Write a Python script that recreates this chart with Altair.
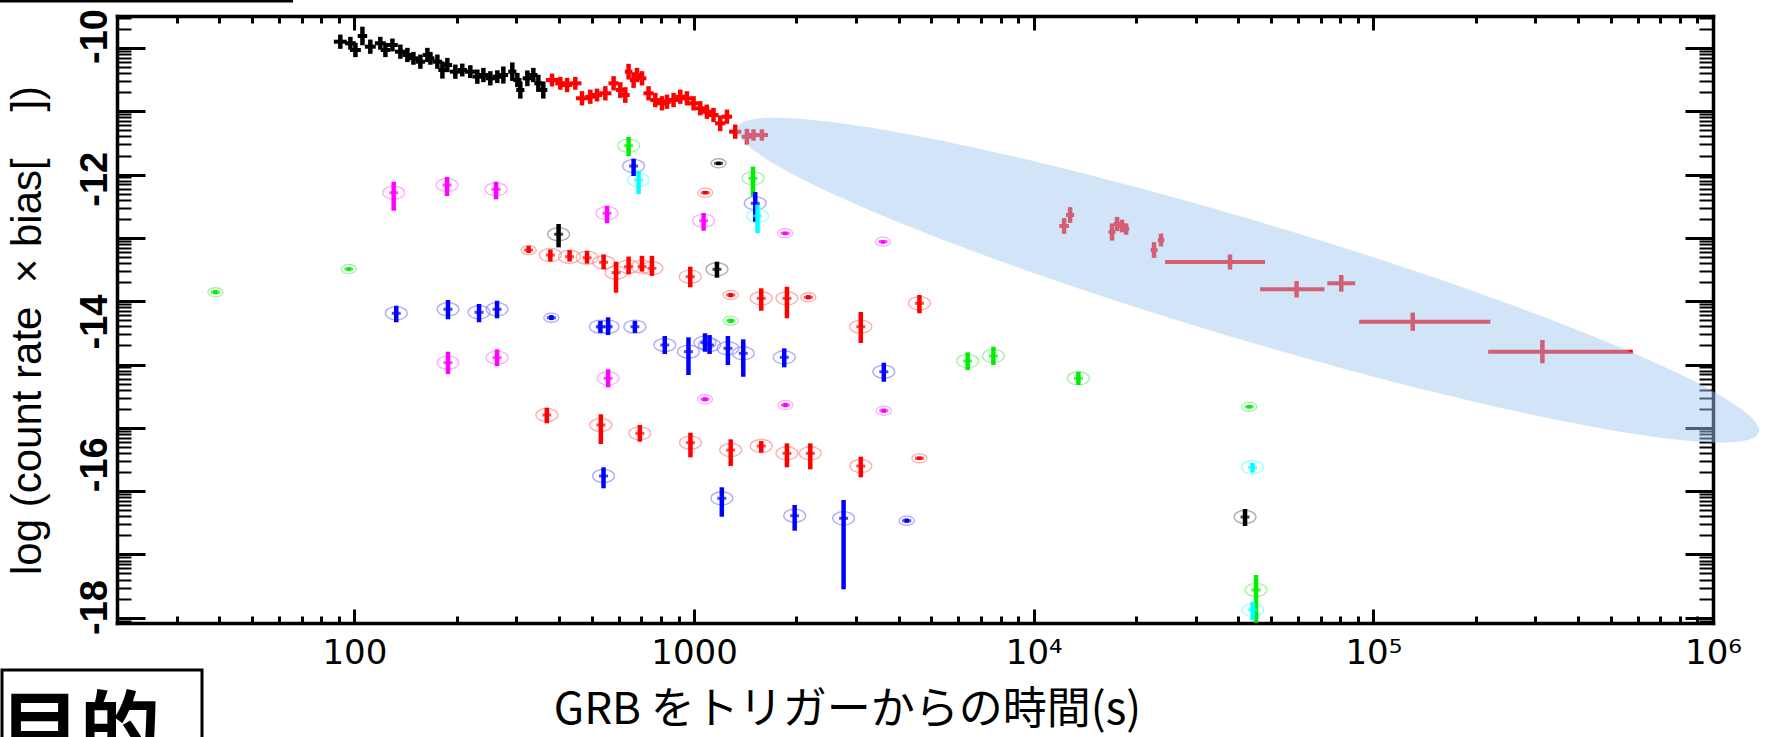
import math
import altair as alt
import pandas as pd

# ---------------- plot geometry ----------------
W, H = 1596, 607
Y_MIN, Y_MAX = -18.224, -9.72
T_MIN, T_MAX = 20, 1000000

# ---------------- X-ray light curve ----------------
# early part (black): time [s], log rate, half error in y, half bin width in dex
xrt_early_t = [90.9, 97.3, 100.7, 105.6, 111.4, 119.2, 123.4, 129.4, 136.6, 143.2,
               149.2, 156.4, 164.0, 167.4, 175.5, 181.6, 187.8, 198.2, 207.8, 219.4,
               230.1, 239.7, 251.3, 263.5, 274.5, 291.7, 301.8, 308.0, 323.0, 336.4,
               348.0, 359.9]
xrt_early_y = [-10.080, -10.102, -10.196, -10.000, -10.150, -10.102, -10.196, -10.126, -10.220, -10.266,
               -10.313, -10.360, -10.266, -10.313, -10.360, -10.477, -10.407, -10.500, -10.477, -10.500,
               -10.570, -10.547, -10.593, -10.570, -10.547, -10.500, -10.617, -10.757, -10.593, -10.547,
               -10.663, -10.757]
xrt_early_dy = [0.10, 0.09, 0.10, 0.13, 0.10, 0.09, 0.10, 0.09, 0.10, 0.10,
                0.09, 0.10, 0.10, 0.09, 0.10, 0.12, 0.10, 0.10, 0.09, 0.09,
                0.10, 0.10, 0.10, 0.09, 0.12, 0.13, 0.10, 0.12, 0.11, 0.10,
                0.12, 0.12]
xrt_early_dex = [0.019, 0.016, 0.016, 0.014, 0.016, 0.016, 0.014, 0.016, 0.016, 0.014,
                 0.014, 0.014, 0.014, 0.012, 0.014, 0.012, 0.014, 0.016, 0.014, 0.016,
                 0.014, 0.014, 0.014, 0.014, 0.014, 0.012, 0.012, 0.012, 0.014, 0.012,
                 0.012, 0.012]

# middle part (red)
xrt_mid_t = [381.8, 403.9, 422.7, 447.1, 467.9, 494.9, 518.0, 548.0, 579.6, 606.5,
             627.4, 641.6, 663.7, 679.2, 702.6, 734.7, 769.0, 804.6, 832.4, 870.4,
             910.8, 953.0, 996.6, 1043, 1091, 1141, 1194, 1250, 1322, 1431,
             1497, 1584]
xrt_mid_y = [-10.617, -10.663, -10.687, -10.663, -10.873, -10.851, -10.827, -10.803, -10.663, -10.757,
             -10.827, -10.500, -10.617, -10.547, -10.593, -10.803, -10.897, -10.943, -10.921, -10.897,
             -10.851, -10.873, -10.943, -11.013, -11.061, -11.107, -11.223, -11.131, -11.341, -11.411,
             -11.387, -11.387]
xrt_mid_dy = [0.09, 0.09, 0.10, 0.09, 0.10, 0.10, 0.09, 0.10, 0.10, 0.11,
              0.11, 0.11, 0.11, 0.10, 0.10, 0.10, 0.10, 0.10, 0.10, 0.10,
              0.10, 0.10, 0.10, 0.10, 0.10, 0.10, 0.11, 0.10, 0.10, 0.11,
              0.08, 0.08]
xrt_mid_dex = [0.018, 0.015, 0.015, 0.018, 0.018, 0.015, 0.015, 0.018, 0.015, 0.013,
               0.013, 0.011, 0.011, 0.011, 0.013, 0.015, 0.015, 0.015, 0.013, 0.015,
               0.015, 0.015, 0.015, 0.015, 0.015, 0.015, 0.015, 0.015, 0.018, 0.015,
               0.015, 0.018]

# late part (red): time, bin start, bin end, log rate, half error
xrt_late_t = [12290, 12800, 17010, 17600, 18200, 18710, 22610, 23710, 37840, 59430, 80450, 130600, 314600]
xrt_late_lo = [11900, 12450, 16600, 17200, 17800, 18300, 22100, 23200, 24360, 46430, 73200, 90830, 217800]
xrt_late_hi = [12700, 13150, 17400, 18000, 18650, 19100, 23150, 24250, 47970, 71780, 88450, 221100, 580700]
xrt_late_y = [-12.662, -12.508, -12.746, -12.634, -12.662, -12.704, -12.998, -12.858, -13.167, -13.549,
              -13.465, -14.003, -14.423]
xrt_late_dy = [0.11, 0.11, 0.12, 0.10, 0.09, 0.08, 0.11, 0.09, 0.105, 0.115, 0.117, 0.128, 0.163]

# ---------------- optical / UV filters ----------------
# each: time [s], log rate, lower end, upper end
green_t = [38.98, 96.3, 641.7, 1491, 1282, 6391, 7609, 13540, 43110, 45140]
green_y = [-13.591, -13.265, -11.537, -11.994, -13.989, -14.554, -14.484, -14.796, -15.194, -17.762]
green_lo = [-13.62, -13.29, -11.681, -12.251, -14.02, -14.680, -14.610, -14.890, -15.22, -18.22]
green_hi = [-13.56, -13.24, -11.415, -11.831, -13.96, -14.432, -14.353, -14.704, -15.17, -17.552]

blue_t = [132.8, 188.6, 232.8, 263.0, 380.1, 530.1, 558.4, 669.5, 820, 962.8, 1077, 1111,
          1258, 1396, 1843, 3620, 663.7, 1514, 541.3, 1207, 1978, 2756, 4228]
blue_y = [-13.885, -13.829, -13.871, -13.829, -13.947, -14.073, -14.073, -14.073, -14.329, -14.423,
          -14.297, -14.329, -14.376, -14.446, -14.502, -14.704, -11.822, -12.344, -16.165, -16.477,
          -16.721, -16.757, -16.791]
blue_lo = [-14.011, -13.969, -14.011, -13.955, -13.98, -14.16, -14.189, -14.16, -14.455, -14.750,
           -14.423, -14.455, -14.610, -14.774, -14.642, -14.844, -11.962, -12.602, -16.337, -16.735,
           -16.931, -17.752, -16.82]
blue_hi = [-13.779, -13.699, -13.755, -13.709, -13.91, -13.99, -13.941, -13.99, -14.203, -14.222,
           -14.165, -14.19, -14.203, -14.250, -14.376, -14.577, -11.719, -12.186, -16.043, -16.323,
           -16.571, -16.501, -16.76]

cyan_t = [686.5, 1538, 44080, 44150]
cyan_y = [-12.018, -12.522, -16.043, -18.042]
cyan_lo = [-12.214, -12.764, -16.118, -18.182]
cyan_hi = [-11.887, -12.354, -15.978, -17.926]

magenta_t = [130.5, 187.4, 261.2, 554.3, 1067, 1855, 3600, 188.6, 263.0, 558.4, 1077, 1858, 3620]
magenta_y = [-12.196, -12.088, -12.148, -12.484, -12.588, -12.764, -12.882, -14.577, -14.507, -14.796,
             -15.090, -15.170, -15.250]
magenta_lo = [-12.448, -12.242, -12.288, -12.624, -12.728, -12.79, -12.91, -14.736, -14.624, -14.922,
              -15.12, -15.20, -15.28]
magenta_hi = [-12.042, -11.976, -12.042, -12.378, -12.480, -12.74, -12.86, -14.423, -14.390, -14.670,
              -15.06, -15.14, -15.22]

red_t = [325.8, 377.5, 430.1, 484.0, 541.7, 589.2, 641.7, 702.5, 751.6, 974.5, 1079, 1282, 1577,
         1877, 2170, 3097, 4608, 368.6, 531.5, 692.5, 975.9, 1282, 1577, 1877, 2199, 3097, 4608]
red_y = [-13.000, -13.069, -13.093, -13.107, -13.171, -13.316, -13.232, -13.232, -13.255, -13.372,
         -12.196, -13.629, -13.675, -13.675, -13.661, -14.073, -13.745, -15.310, -15.450, -15.567,
         -15.698, -15.801, -15.745, -15.847, -15.847, -16.025, -15.917]
red_lo = [-13.04, -13.16, -13.16, -13.19, -13.27, -13.597, -13.34, -13.30, -13.36, -13.521,
          -12.22, -13.66, -13.849, -13.955, -13.69, -14.301, -13.885, -15.426, -15.716, -15.684,
          -15.903, -16.025, -15.838, -16.043, -16.071, -16.183, -15.94]
red_hi = [-12.94, -12.99, -13.00, -13.01, -13.06, -13.162, -13.09, -13.08, -13.08, -13.232,
          -12.17, -13.60, -13.535, -13.513, -13.63, -13.867, -13.629, -15.208, -15.300, -15.450,
          -15.558, -15.651, -15.675, -15.707, -15.707, -15.894, -15.89]

black_t = [399.2, 1181, 1168, 41900]
black_y = [-12.778, -11.784, -13.269, -16.739]
black_lo = [-12.961, -11.81, -13.386, -16.865]
black_hi = [-12.634, -11.76, -13.162, -16.627]

# highlighted late-time decay region: centre (time, log rate)
band_t = [42760]
band_y = [-13.42]

# ---------------- tables ----------------
def binned(t, y, dy, dex, col):
    return pd.DataFrame({
        "t": t,
        "t_lo": [a * 10 ** (-d) for a, d in zip(t, dex)],
        "t_hi": [a * 10 ** d for a, d in zip(t, dex)],
        "y": y,
        "y_lo": [a - e for a, e in zip(y, dy)],
        "y_hi": [a + e for a, e in zip(y, dy)],
        "col": col,
    })

xrt = pd.concat([
    binned(xrt_early_t, xrt_early_y, xrt_early_dy, xrt_early_dex, "#000000"),
    binned(xrt_mid_t, xrt_mid_y, xrt_mid_dy, xrt_mid_dex, "#ff0000"),
    pd.DataFrame({
        "t": xrt_late_t, "t_lo": xrt_late_lo, "t_hi": xrt_late_hi, "y": xrt_late_y,
        "y_lo": [a - e for a, e in zip(xrt_late_y, xrt_late_dy)],
        "y_hi": [a + e for a, e in zip(xrt_late_y, xrt_late_dy)],
        "col": "#ff0000",
    }),
], ignore_index=True)

filters = [
    (green_t, green_y, green_lo, green_hi, "#00ee00", "#7df27d"),
    (blue_t, blue_y, blue_lo, blue_hi, "#0000ff", "#8a8aff"),
    (cyan_t, cyan_y, cyan_lo, cyan_hi, "#00ffff", "#80ffff"),
    (magenta_t, magenta_y, magenta_lo, magenta_hi, "#ff00ff", "#ff8cff"),
    (red_t, red_y, red_lo, red_hi, "#ff0000", "#ff8c8c"),
    (black_t, black_y, black_lo, black_hi, "#000000", "#8c8c8c"),
]
uvot = pd.concat([
    pd.DataFrame({"t": t, "y": y, "y_lo": lo, "y_hi": hi, "col": c, "tint": tint})
    for t, y, lo, hi, c, tint in filters
], ignore_index=True)
uvot["msize"] = [230 if (h - l) < 0.1 else 480 for l, h in zip(uvot["y_lo"], uvot["y_hi"])]

band = pd.DataFrame({"t": band_t, "y": band_y})
dummy = pd.DataFrame({"k": [0]})

# ---------------- scales & axes ----------------
xs = alt.Scale(type="log", domain=[T_MIN, T_MAX], nice=False)
ys = alt.Scale(domain=[Y_MIN, Y_MAX], nice=False, zero=False)

x_ticks = [m * 10 ** k for k in range(1, 6) for m in range(1, 10) if T_MIN <= m * 10 ** k] + [T_MAX]
x_major = [100, 1000, 10000, 100000, 1000000]
x_major_test = "indexof([100,1000,10000,100000,1000000], datum.value) >= 0"

# logarithmic tick ladder of the vertical frame
step = 0.8869
top_decade = -10.168
y_bases = [round(top_decade - step * n, 4) for n in range(-1, 11)]
y_major = [b for b in y_bases if Y_MIN <= b <= Y_MAX]
y_ticks = list(y_major)
for b in y_bases:
    for m in range(2, 10):
        v = round(b + step * math.log10(m), 4)
        if Y_MIN <= v <= Y_MAX:
            y_ticks.append(v)
y_major_test = "indexof([" + ",".join(str(v) for v in y_major) + "], datum.value) >= 0"

x_tick_size = {"condition": {"test": x_major_test, "value": 14}, "value": 7}
y_tick_size = {"condition": {"test": y_major_test, "value": 28}, "value": 14}
y_tick_width = {"condition": {"test": y_major_test, "value": 3}, "value": 2}

frame = dict(grid=False, domainColor="black", domainWidth=3.5, domainCap="square")

x_label_expr = ("datum.value == 100 ? '100' : datum.value == 1000 ? '1000' : "
                "datum.value == 10000 ? '10⁴' : datum.value == 100000 ? '10⁵' : "
                "datum.value == 1000000 ? '10⁶' : ''")

x_main = alt.Axis(
    orient="bottom", values=x_major, labelExpr=x_label_expr, ticks=False, tickSize=0,
    domain=True, labelFont="DejaVu Sans", labelFontSize=34, labelColor="black",
    labelPadding=13, labelBaseline="top", labelFlush=False, labelOverlap=False,
    title="GRB をトリガーからの時間(s)", titleFont="Noto Sans CJK JP", titleFontSize=44,
    titleFontWeight="normal", titleColor="black", titleX=730, titleY=100,
    titleAlign="center", titleBaseline="alphabetic", **frame)
y_main = alt.Axis(
    orient="left", values=[-10, -12, -14, -16, -18], labelExpr="'' + datum.value",
    ticks=False, tickSize=0, domain=True, labelAngle=270, labelAlign="center",
    labelBaseline="alphabetic", labelPadding=11, labelFont="Liberation Sans",
    labelFontSize=38, labelFontWeight="bold", labelColor="black",
    title="log (count rate\u00a0\u00a0× bias[\u00a0\u00a0\u00a0\u00a0])", titleAngle=270,
    titleX=-77, titleY=314, titleAlign="center", titleBaseline="alphabetic",
    titleFont="Liberation Sans", titleFontSize=42, titleFontWeight="normal", titleColor="black",
    **frame)

# inward ticks: bottom edge (top-oriented axis moved down) and left edge
x_in_bottom = alt.Axis(orient="top", offset=-H, values=x_ticks, labels=False, domain=False,
                       grid=False, tickSize=x_tick_size, tickWidth=3, tickColor="black", title=None)
y_in_left = alt.Axis(orient="right", offset=-W, values=y_ticks, labels=False, domain=False,
                     grid=False, tickSize=y_tick_size, tickWidth=y_tick_width, tickColor="black",
                     title=None)
# inward ticks: top edge and right edge, with the frame lines
x_in_top = alt.Axis(orient="bottom", offset=-H, values=x_ticks, labels=False, domain=True,
                    tickSize=x_tick_size, tickWidth=3, tickColor="black", title=None, **frame)
y_in_right = alt.Axis(orient="left", offset=-W, values=y_ticks, labels=False, domain=True,
                      tickSize=y_tick_size, tickWidth=y_tick_width, tickColor="black", title=None,
                      **frame)


def carrier(xa, ya):
    return alt.Chart(band).mark_point(opacity=0).encode(
        x=alt.X("t:Q", scale=xs, axis=xa),
        y=alt.Y("y:Q", scale=ys, axis=ya),
    )


axes_main = carrier(x_main, y_main)
axes_in1 = carrier(x_in_bottom, y_in_left)
axes_in2 = carrier(x_in_top, y_in_right)

# ---------------- marks ----------------
ring = ("M-1,0C-1,-0.3314,-0.5523,-0.6,0,-0.6C0.5523,-0.6,1,-0.3314,1,0"
        "C1,0.3314,0.5523,0.6,0,0.6C-0.5523,0.6,-1,0.3314,-1,0Z")

uv_rings = alt.Chart(uvot).mark_point(shape=ring, filled=False, strokeWidth=1.3).encode(
    x=alt.X("t:Q", scale=xs, axis=None),
    y=alt.Y("y:Q", scale=ys, axis=None),
    color=alt.Color("tint:N", scale=None),
    size=alt.Size("msize:Q", scale=None),
)
uv_bars = alt.Chart(uvot).mark_rule(strokeWidth=4.5).encode(
    x=alt.X("t:Q", scale=xs, axis=None),
    y=alt.Y("y_lo:Q", scale=ys, axis=None),
    y2="y_hi:Q",
    color=alt.Color("col:N", scale=None),
)
uv_cross = alt.Chart(uvot).mark_tick(orient="horizontal", size=9, thickness=3).encode(
    x=alt.X("t:Q", scale=xs, axis=None),
    y=alt.Y("y:Q", scale=ys, axis=None),
    color=alt.Color("col:N", scale=None),
)

xrt_v = alt.Chart(xrt).mark_rule(strokeWidth=4.5).encode(
    x=alt.X("t:Q", scale=xs, axis=None),
    y=alt.Y("y_lo:Q", scale=ys, axis=None),
    y2="y_hi:Q",
    color=alt.Color("col:N", scale=None),
)
xrt_h = alt.Chart(xrt).mark_rule(strokeWidth=4).encode(
    x=alt.X("t_lo:Q", scale=xs, axis=None),
    x2="t_hi:Q",
    y=alt.Y("y:Q", scale=ys, axis=None),
    color=alt.Color("col:N", scale=None),
)

# translucent ellipse over the late-time decay
ellipse = ("M-1,0C-1,-0.0611,-0.5523,-0.1107,0,-0.1107C0.5523,-0.1107,1,-0.0611,1,0"
           "C1,0.0611,0.5523,0.1107,0,0.1107C-0.5523,0.1107,-1,0.0611,-1,0Z")
band_mark = alt.Chart(band).mark_point(
    shape=ellipse, filled=True, color="#a1c6f0", opacity=0.48, strokeWidth=0,
    size=1066 ** 2, angle=16.6,
).encode(
    x=alt.X("t:Q", scale=xs, axis=None),
    y=alt.Y("y:Q", scale=ys, axis=None),
)

# slide furniture around the chart
top_line = alt.Chart(dummy).mark_rule(color="black", strokeWidth=3).encode(
    x=alt.value(-117), x2=alt.value(176), y=alt.value(-15))
goal_box = alt.Chart(dummy).mark_rect(filled=False, stroke="black", strokeWidth=3).encode(
    x=alt.value(-115), x2=alt.value(85), y=alt.value(654), y2=alt.value(760))
goal_text = alt.Chart(dummy).mark_text(
    font="Noto Sans CJK JP", fontSize=80, fontWeight="bold", color="black",
    align="center", baseline="alphabetic",
).encode(x=alt.value(-37), y=alt.value(741), text=alt.value("目的"))

chart = alt.layer(
    axes_main, axes_in1, axes_in2,
    uv_rings, uv_bars, uv_cross,
    xrt_v, xrt_h,
    band_mark,
    top_line, goal_box, goal_text,
).resolve_axis(
    x="independent", y="independent"
).properties(
    width=W, height=H,
    autosize=alt.AutoSizeParams(type="none"),
    padding={"left": 117, "top": 16, "right": 63, "bottom": 114},
).configure_view(stroke=None)

chart.save("out.html", embed_options={"renderer": "svg", "actions": False})
